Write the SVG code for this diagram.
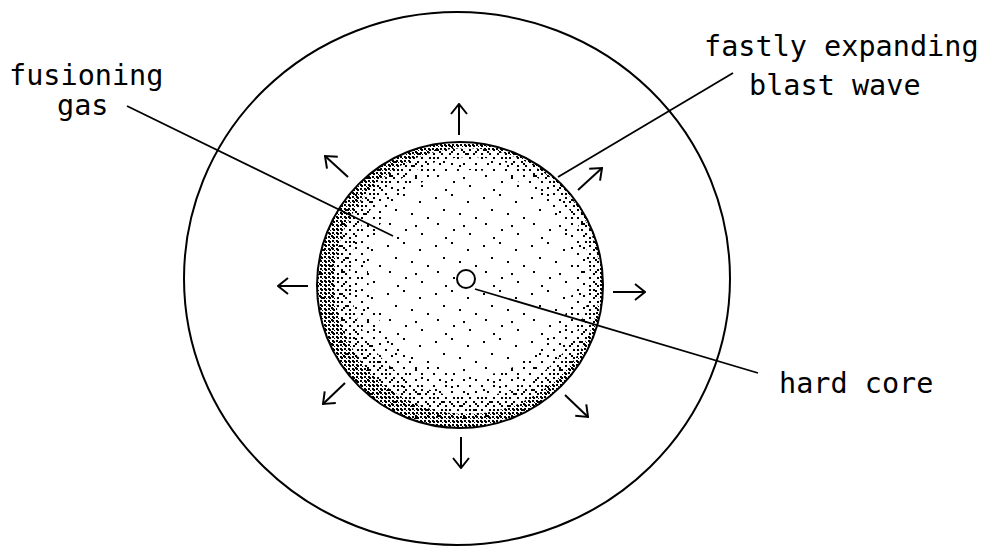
<svg xmlns="http://www.w3.org/2000/svg" width="984" height="547" viewBox="0 0 984 547">
<style>
.ln{stroke:#000;stroke-width:2;fill:none}
.ld{stroke:#000;stroke-width:1.8;fill:none}
.ar{stroke:#000;stroke-width:2;fill:none;marker-end:url(#head)}
.t{font-family:"DejaVu Sans Mono","Liberation Mono",monospace;font-size:28.5px;fill:#000}
</style>
<defs>
<marker id="head" viewBox="0 0 12 18" refX="11" refY="9" markerWidth="12" markerHeight="18" markerUnits="userSpaceOnUse" orient="auto">
<path d="M1,1 L11,9 L1,17" stroke="#000" stroke-width="2" fill="none"/>
</marker>
<pattern id="sparse" width="48" height="48" patternUnits="userSpaceOnUse">
<rect x="3" y="5" width="2" height="2"/><rect x="19" y="2" width="2" height="2"/><rect x="35" y="9" width="2" height="2"/>
<rect x="11" y="17" width="2" height="2"/><rect x="27" y="21" width="2" height="2"/><rect x="43" y="25" width="2" height="2"/>
<rect x="5" y="31" width="2" height="2"/><rect x="21" y="37" width="2" height="2"/><rect x="37" y="41" width="2" height="2"/>
<rect x="13" y="45" width="2" height="2"/><rect x="31" y="33" width="2" height="2"/>
</pattern>
<pattern id="mid" width="12" height="12" patternUnits="userSpaceOnUse">
<rect x="1" y="1" width="2" height="2"/><rect x="7" y="7" width="2" height="2"/>
</pattern>
<pattern id="mid2" width="8" height="8" patternUnits="userSpaceOnUse">
<rect x="1" y="1" width="2" height="2"/><rect x="5" y="5" width="2" height="2"/>
</pattern>
<pattern id="dense" width="4" height="4" patternUnits="userSpaceOnUse">
<rect x="0" y="0" width="2" height="2"/><rect x="2" y="2" width="1" height="1"/>
</pattern>
</defs>
<g id="blast-wave">
<ellipse class="ln" cx="457" cy="278.5" rx="273" ry="266.5"/>
</g>
<g id="fusioning-gas-sphere">
<circle cx="460" cy="285" r="143" fill="url(#sparse)"/>
<path fill="url(#mid)" fill-rule="evenodd" d="M317,285 a143,143 0 1,0 286,0 a143,143 0 1,0 -286,0 Z M368,273 a103,103 0 1,0 206,0 a103,103 0 1,0 -206,0 Z"/>
<path fill="url(#mid2)" fill-rule="evenodd" d="M317,285 a143,143 0 1,0 286,0 a143,143 0 1,0 -286,0 Z M350,277 a120,120 0 1,0 240,0 a120,120 0 1,0 -240,0 Z"/>
<path fill="url(#dense)" fill-rule="evenodd" d="M317,285 a143,143 0 1,0 286,0 a143,143 0 1,0 -286,0 Z M334,281 a133,133 0 1,0 266,0 a133,133 0 1,0 -266,0 Z"/>
<circle class="ln" cx="460" cy="285" r="143"/>
</g>
<g id="hard-core">
<circle cx="466" cy="279" r="9" fill="#fff" stroke="#000" stroke-width="2"/>
</g>
<g id="labels">
<text class="t" x="9" y="85">fusioning</text>
<text class="t" x="57" y="115">gas</text>
<text class="t" x="704" y="56">fastly expanding</text>
<text class="t" x="749" y="95">blast wave</text>
<text class="t" x="779" y="393">hard core</text>
</g>
<g id="connectors">
<line class="ld" x1="127" y1="106" x2="393" y2="236"/>
<line class="ld" x1="558" y1="177" x2="733" y2="73"/>
<line class="ld" x1="475" y1="289" x2="758" y2="373"/>
<line class="ar" x1="459" y1="135" x2="459" y2="104"/>
<line class="ar" x1="348" y1="177" x2="325" y2="156"/>
<line class="ar" x1="578" y1="190" x2="602" y2="168"/>
<line class="ar" x1="308" y1="286" x2="278" y2="286"/>
<line class="ar" x1="613" y1="292" x2="645" y2="292"/>
<line class="ar" x1="345" y1="383" x2="323" y2="404"/>
<line class="ar" x1="565" y1="395" x2="588" y2="417"/>
<line class="ar" x1="461" y1="437" x2="461" y2="468"/>
</g>
</svg>
